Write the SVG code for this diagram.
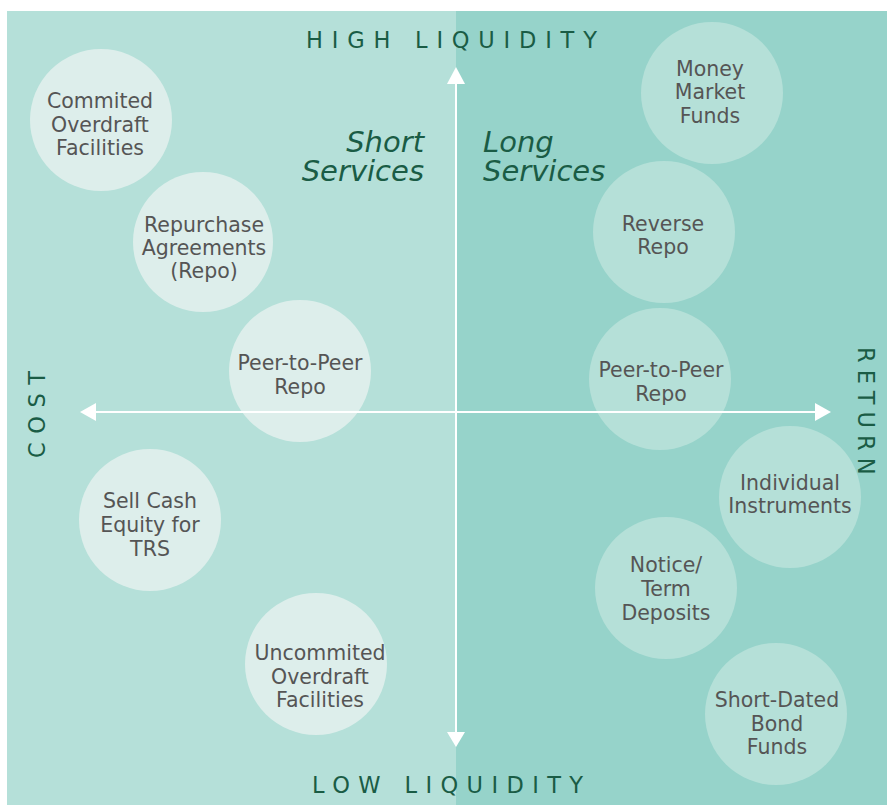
<svg xmlns="http://www.w3.org/2000/svg" width="887" height="805" viewBox="0 0 887 805">
<style>
.bgL{fill:#B5E0D9}
.bgR{fill:#96D3CA}
.cL{fill:#DDEEEB}
.cR{fill:#B5E0D8}
.t{font-family:"DejaVu Sans","Liberation Sans",sans-serif;font-size:20.5px;fill:#555555;text-anchor:middle}
.ax{font-family:"DejaVu Sans","Liberation Sans",sans-serif;font-size:22.5px;fill:#1A5C45}
.sv{font-family:"DejaVu Sans","Liberation Sans",sans-serif;font-size:29px;font-style:italic;fill:#1A5C45}
.axis{stroke:#FFFFFF;stroke-width:2;fill:none}
.head{fill:#FFFFFF}
</style>
<rect x="0" y="0" width="887" height="805" fill="#FFFFFF"/>
<rect class="bgL" x="7" y="11" width="449" height="794"/>
<rect class="bgR" x="456" y="11" width="431" height="794"/>

<g id="commited-overdraft">
<circle class="cL" cx="101" cy="120" r="71"/>
<text class="t" x="100" y="108">Commited</text>
<text class="t" x="100" y="132">Overdraft</text>
<text class="t" x="100" y="155">Facilities</text>
</g>
<g id="repurchase-agreements">
<circle class="cL" cx="203" cy="242" r="70"/>
<text class="t" x="204" y="232">Repurchase</text>
<text class="t" x="204" y="255">Agreements</text>
<text class="t" x="204" y="278">(Repo)</text>
</g>
<g id="p2p-left">
<circle class="cL" cx="300" cy="371" r="71"/>
<text class="t" x="300" y="370">Peer-to-Peer</text>
<text class="t" x="300" y="394">Repo</text>
</g>
<g id="sell-cash">
<circle class="cL" cx="150" cy="520" r="71"/>
<text class="t" x="150" y="508">Sell Cash</text>
<text class="t" x="150" y="532">Equity for</text>
<text class="t" x="150" y="556">TRS</text>
</g>
<g id="uncommited-overdraft">
<circle class="cL" cx="316" cy="664" r="71"/>
<text class="t" x="320" y="660">Uncommited</text>
<text class="t" x="320" y="684">Overdraft</text>
<text class="t" x="320" y="707">Facilities</text>
</g>

<g id="money-market">
<circle class="cR" cx="712" cy="93" r="71"/>
<text class="t" x="710" y="76">Money</text>
<text class="t" x="710" y="99">Market</text>
<text class="t" x="710" y="123">Funds</text>
</g>
<g id="reverse-repo">
<circle class="cR" cx="664" cy="232" r="71"/>
<text class="t" x="663" y="231">Reverse</text>
<text class="t" x="663" y="254">Repo</text>
</g>
<g id="p2p-right">
<circle class="cR" cx="660" cy="379" r="71"/>
<text class="t" x="661" y="377">Peer-to-Peer</text>
<text class="t" x="661" y="401">Repo</text>
</g>
<g id="individual-instruments">
<circle class="cR" cx="790" cy="497" r="71"/>
<text class="t" x="790" y="490">Individual</text>
<text class="t" x="790" y="513">Instruments</text>
</g>
<g id="notice-term">
<circle class="cR" cx="666" cy="588" r="71"/>
<text class="t" x="666" y="572">Notice/</text>
<text class="t" x="666" y="596">Term</text>
<text class="t" x="666" y="620">Deposits</text>
</g>
<g id="short-dated">
<circle class="cR" cx="776" cy="714" r="71"/>
<text class="t" x="777" y="707">Short-Dated</text>
<text class="t" x="777" y="731">Bond</text>
<text class="t" x="777" y="754">Funds</text>
</g>

<g id="connectors">
<line class="axis" x1="456" y1="82" x2="456" y2="734"/>
<polygon class="head" points="456,67 447,84 465,84"/>
<polygon class="head" points="456,747 447,732 465,732"/>
<line class="axis" x1="94" y1="412" x2="818" y2="412"/>
<polygon class="head" points="80,412 96,403 96,421"/>
<polygon class="head" points="831,412 815,403 815,421"/>
</g>

<g id="labels">
<text class="ax" x="306" y="48" letter-spacing="8.8">HIGH LIQUIDITY</text>
<text class="ax" x="312" y="793" letter-spacing="8.4">LOW LIQUIDITY</text>
<text class="ax" transform="translate(45,458) rotate(-90)" x="0" y="0" letter-spacing="8.5">COST</text>
<text class="ax" transform="translate(858,347) rotate(90)" x="0" y="0" letter-spacing="7">RETURN</text>
<text class="sv" x="424" y="152" text-anchor="end">Short</text>
<text class="sv" x="424" y="181" text-anchor="end">Services</text>
<text class="sv" x="483" y="152">Long</text>
<text class="sv" x="483" y="181">Services</text>
</g>
</svg>
